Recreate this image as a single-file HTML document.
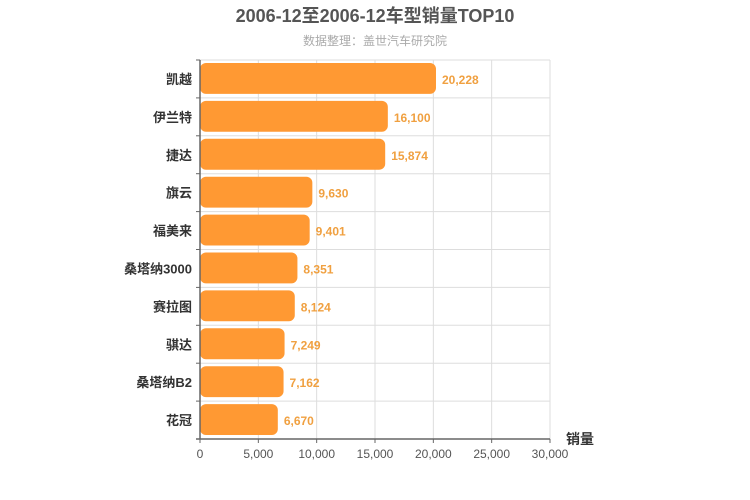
<!DOCTYPE html>
<html><head><meta charset="utf-8"><style>
body{margin:0;background:#fff;}
svg{display:block;font-family:"Liberation Sans","Noto Sans CJK SC",sans-serif;}
</style></head><body>
<svg id="c" width="750" height="500">
<text x="375" y="22" text-anchor="middle" font-size="18" font-weight="bold" fill="#555">2006-12至2006-12车型销量TOP10</text>
<text x="375" y="45" text-anchor="middle" font-size="12" fill="#aaa">数据整理：盖世汽车研究院</text>
<g id="grid"></g><g id="bars"></g><g id="axes"></g>
<text x="566" y="444" font-size="14" font-weight="bold" fill="#333">销量</text>
</svg>
<script>
const categories=["凯越","伊兰特","捷达","旗云","福美来","桑塔纳3000","赛拉图","骐达","桑塔纳B2","花冠"];
const values=[20228,16100,15874,9630,9401,8351,8124,7249,7162,6670];
const ticks=[0,5000,10000,15000,20000,25000,30000];
const tickLabels=["0","5,000","10,000","15,000","20,000","25,000","30,000"];
const NS="http://www.w3.org/2000/svg";
const X0=200,X1=550,Y0=60,Y1=439,XMAX=30000;
const xs=v=>X0+(v/XMAX)*(X1-X0);
const band=(Y1-Y0)/categories.length;
function mk(tag,attrs,parent,txt){const e=document.createElementNS(NS,tag);for(const k in attrs)e.setAttribute(k,attrs[k]);if(txt!==undefined)e.textContent=txt;document.getElementById(parent).appendChild(e);return e;}
ticks.forEach((t,i)=>{
 if(i>0){const g=mk("line",{x1:xs(t),x2:xs(t),y1:Y0,y2:Y1,stroke:"#ddd"},"grid");
 
 }
 const tk=mk("line",{x1:xs(t),x2:xs(t),y1:Y1,y2:Y1+4,stroke:"#666"},"axes");
 
 
 const l=mk("text",{x:xs(t),y:Y1+19,"text-anchor":"middle","font-size":12,fill:"#555"},"axes",tickLabels[i]);
 
 
});
for(let i=0;i<categories.length;i++){
 const y=Y0+i*band;
 if(i>0){const g=mk("line",{x1:X0,x2:X1,y1:y,y2:y,stroke:"#ddd"},"grid");
 
 }
}
const topLine=mk("line",{x1:X0,x2:X1,y1:Y0,y2:Y0,stroke:"#ddd"},"grid");


categories.forEach((c,i)=>{
 const y=Y0+i*band;
 const b=mk("rect",{x:X0,y:y+3,width:xs(values[i])-X0,height:band-7,rx:6,fill:"#ff9933"},"bars");
 
 
 const v=mk("text",{x:xs(values[i])+6,y:y+band/2+5,"font-size":12,fill:"#f0a040","font-weight":"bold"},"bars",values[i].toLocaleString("en-US"));
 
 
 const l=mk("text",{x:X0-8,y:y+band/2+5,"text-anchor":"end","font-size":13,"font-weight":"bold",fill:"#333"},"axes",c);
 
 
 const t=mk("line",{x1:X0-4,x2:X0,y1:y,y2:y,stroke:"#666"},"axes");
 
 
});
const ya=mk("line",{x1:X0,x2:X0,y1:Y0,y2:Y1,stroke:"#666","stroke-width":1.5},"axes");


const xa=mk("line",{x1:X0-4,x2:X1,y1:Y1,y2:Y1,stroke:"#666","stroke-width":1.5},"axes");


</script>
</body></html>
